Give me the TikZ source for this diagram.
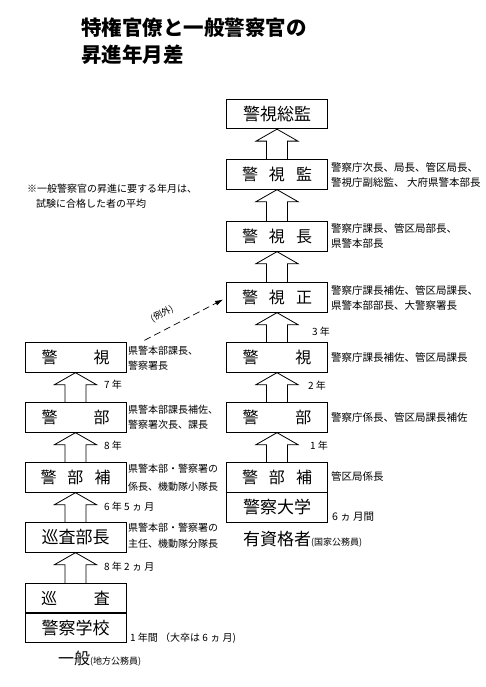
\documentclass[tikz,border=0pt]{standalone}
\usepackage{fontspec}
\newfontfamily\jp{Noto Sans CJK JP}
\usetikzlibrary{calc,arrows.meta}
\newcommand\blockup[2]{%
  \draw[blockarrow] ($(#1.north)+(-10.5,0)$) -- ($(#2.south)+(-10.5,12)$) -- ($(#2.south)+(-21,12)$)
    -- (#2.south) -- ($(#2.south)+(21,12)$) -- ($(#2.south)+(10.5,12)$) -- ($(#1.north)+(10.5,0)$);}
\begin{document}
\begin{tikzpicture}[x=1pt,y=-1pt,
  box/.style={draw, line width=0.8pt, minimum width=101pt, minimum height=29.5pt, inner sep=0pt,
    font=\jp\fontsize{16}{16}\selectfont},
  tight/.style={font=\jp\fontsize{17}{17}\selectfont},
  desc/.style={anchor=west, inner sep=0pt, align=left, font=\jp\fontsize{10}{15}\selectfont},
  rdesc/.style={anchor=west, inner sep=0pt, align=left, font=\jp\fontsize{10.5}{15}\selectfont},
  yr/.style={anchor=west, inner sep=0pt, font=\jp\fontsize{10}{10}\selectfont},
  blockarrow/.style={draw, line width=0.8pt, line join=miter},
  titlefont/.style={anchor=west, inner sep=0pt, font=\jp\bfseries\fontsize{20.5}{20.5}\selectfont}]
\useasboundingbox (0,0) rectangle (486,687);

% title
\node[titlefont] (t1) at (81,28) {特権官僚と一般警察官の};
\node[titlefont] (t2) at (81,55) {昇進年月差};

% note
\node[desc, align=left] (note) at (27,196) {※一般警察官の昇進に要する年月は、\\\hspace*{9pt}試験に合格した者の平均};

% right column
\node[box, tight] (sokan) at (277,114) {警視総監};
\node[box] (kanshikan) at (277,174.5) {警\hspace{11pt}視\hspace{11pt}監};
\node[box] (keishicho) at (277,236.5) {警\hspace{11pt}視\hspace{11pt}長};
\node[box] (keishisei) at (277,297.5) {警\hspace{11pt}視\hspace{11pt}正};
\node[box] (rkeishi) at (277,357.5) {警\hspace{37pt}視};
\node[box] (rkeibu) at (277,417.5) {警\hspace{37pt}部};
\node[box] (rkeibuho) at (277,477.5) {警\hspace{11pt}部\hspace{11pt}補};
\node[box, tight] (daigaku) at (277,507.5) {警察大学};

% left column
\node[box] (lkeishi) at (75.5,357.5) {警\hspace{36pt}視};
\node[box] (lkeibu) at (75.5,417.5) {警\hspace{36pt}部};
\node[box] (lkeibuho) at (75.5,477.5) {警\hspace{11pt}部\hspace{11pt}補};
\node[box, tight] (junsabucho) at (75.5,537.5) {巡査部長};
\node[box] (junsa) at (75.5,598) {巡\hspace{37pt}査};
\node[box, tight] (gakko) at (75.5,628) {警察学校};

% block arrows
\blockup{kanshikan}{sokan}
\blockup{keishicho}{kanshikan}
\blockup{keishisei}{keishicho}
\blockup{rkeishi}{keishisei}
\blockup{rkeibu}{rkeishi}
\blockup{rkeibuho}{rkeibu}
\blockup{lkeibu}{lkeishi}
\blockup{lkeibuho}{lkeibu}
\blockup{junsabucho}{lkeibuho}
\blockup{junsa}{junsabucho}

% dashed exception arrow
\coordinate (dstart) at ($(lkeishi.north east)+(18,-2)$);
\draw[dash pattern=on 7pt off 4pt, line width=0.7pt, -{Latex[length=8pt,width=5pt]}]
  (dstart) -- ($(keishisei.west)+(-3,2)$);
\node[rotate=27.5, inner sep=0pt, font=\jp\fontsize{9}{9}\selectfont] (reigai) at (162,314) {(例外)};

% right descriptions
\node[rdesc] (d1) at (331,174.5) {警察庁次長、局長、管区局長、\\警視庁副総監、 大府県警本部長};
\node[rdesc] (d2) at (331,236) {警察庁課長、管区局部長、\\県警本部長};
\node[rdesc] (d3) at (331,297.5) {警察庁課長補佐、管区局課長、\\県警本部部長、大警察署長};
\node[rdesc] (d4) at (331,357.5) {警察庁課長補佐、管区局課長};
\node[rdesc] (d5) at (331,417.5) {警察庁係長、管区局課長補佐};
\node[rdesc] (d6) at (331,476.5) {管区局係長};
\node[rdesc] (d7) at (332,517) {6 ヵ 月間};

% left descriptions
\node[desc] (e1) at (128,358) {県警本部課長、\\警察署長};
\node[desc] (e2) at (128,417.5) {県警本部課長補佐、\\警察署次長、課長};
\node[desc, font=\jp\fontsize{10}{18}\selectfont] (e3) at (128,477.5) {県警本部・警察署の\\係長、機動隊小隊長};
\node[desc, font=\jp\fontsize{10}{16}\selectfont] (e4) at (128,535.5) {県警本部・警察署の\\主任、機動隊分隊長};
\node[desc] (e5) at (130,638) {1 年間 （大卒は 6 ヵ 月)};

% year labels
\node[yr] (y1) at (312,332) {3 年};
\node[yr] (y2) at (308,386) {2 年};
\node[yr] (y3) at (310,446) {1 年};
\node[yr] (y4) at (104,385) {7 年};
\node[yr] (y5) at (104,446) {8 年};
\node[yr] (y6) at (104,507) {6 年 5 ヵ 月};
\node[yr] (y7) at (104,567) {8 年 2 ヵ 月};

% bottom labels
\node[anchor=west, inner sep=0pt] (yushikaku) at (243,539)
  {\jp\fontsize{17}{17}\selectfont 有資格者\fontsize{9}{9}\selectfont (国家公務員)};
\node[anchor=west, inner sep=0pt] (ippan) at (58,659)
  {\jp\fontsize{16}{16}\selectfont 一般\fontsize{9}{9}\selectfont (地方公務員)};
\end{tikzpicture}
\end{document}
